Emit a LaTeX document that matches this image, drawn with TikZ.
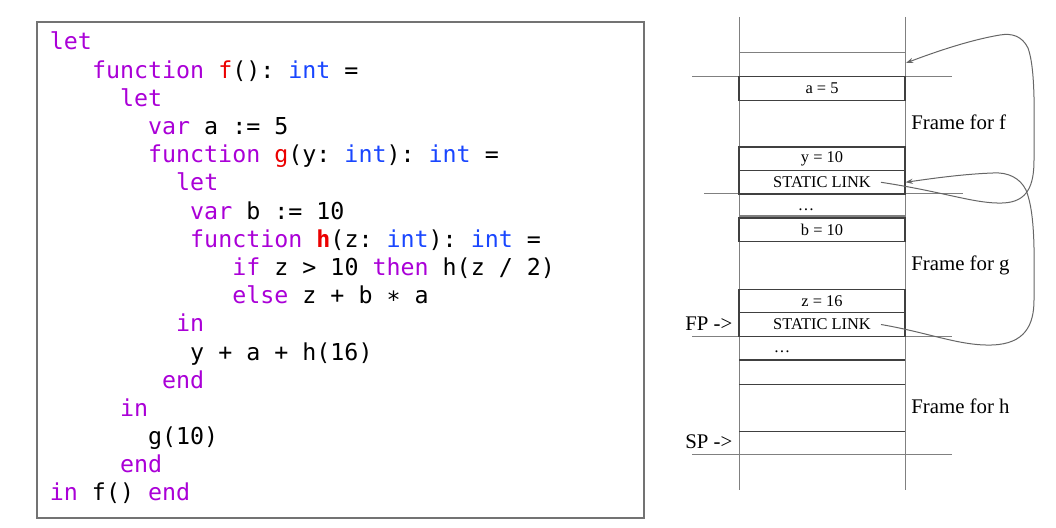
\documentclass[tikz,border=0pt]{standalone}
\usepackage{fontspec}
\setmainfont{Liberation Serif}
\setmonofont{DejaVu Sans Mono}
\usepackage{xcolor}
\usetikzlibrary{calc,arrows.meta}

\definecolor{kwpurple}{RGB}{170,0,215}
\definecolor{typeblue}{RGB}{25,70,255}
\definecolor{fnred}{RGB}{235,0,0}
\newcommand{\kw}[1]{\textcolor{kwpurple}{#1}}
\newcommand{\ty}[1]{\textcolor{typeblue}{#1}}
\newcommand{\fn}[1]{\textcolor{fnred}{#1}}

\begin{document}
\begin{tikzpicture}[x=0.5pt,y=-0.5pt,
  code/.style={anchor=base west,inner sep=0,font=\ttfamily\fontsize{11.65}{14}\selectfont},
  cell/.style={draw=black!75,line width=0.6pt,minimum width=83pt,minimum height=11.75pt,inner sep=0,font=\fontsize{8.2}{9}\selectfont},
  celltext/.style={anchor=base,inner sep=0,font=\fontsize{8.2}{9}\selectfont},
  framelab/.style={anchor=base west,inner sep=0,font=\fontsize{10.4}{12}\selectfont},
  rung/.style={draw=black!75,line width=0.6pt},
  edge/.style={draw=black!50,line width=0.5pt},
  link/.style={draw=black!60,line width=0.5pt,-{Stealth[length=3.6pt,width=2.6pt]}}]
\useasboundingbox (0,0) rectangle (1056,528);

% source program
\draw [black!55,line width=0.75pt] (37,22) rectangle (644,518);
\node [code] (l1)  at (49.5,50)    {\kw{let}};
\node [code] (l2)  at (91.6,78.2)  {\kw{function} \fn{f}(): \ty{int} =};
\node [code] (l3)  at (119.7,106.4) {\kw{let}};
\node [code] (l4)  at (147.7,134.6) {\kw{var} a := 5};
\node [code] (l5)  at (147.7,162.8) {\kw{function} \fn{g}(y: \ty{int}): \ty{int} =};
\node [code] (l6)  at (175.8,191)   {\kw{let}};
\node [code] (l7)  at (189.8,219.1) {\kw{var} b := 10};
\node [code] (l8)  at (189.8,247.3) {\kw{function} \fn{\textbf{h}}(z: \ty{int}): \ty{int} =};
\node [code] (l9)  at (231.9,275.5) {\kw{if} z > 10 \kw{then} h(z / 2)};
\node [code] (l10) at (231.9,303.7) {\kw{else} z + b ∗ a};
\node [code] (l11) at (175.8,331.9) {\kw{in}};
\node [code] (l12) at (189.8,360.1) {y + a + h(16)};
\node [code] (l13) at (161.7,388.3) {\kw{end}};
\node [code] (l14) at (119.7,416.5) {\kw{in}};
\node [code] (l15) at (147.7,444.7) {g(10)};
\node [code] (l16) at (119.7,472.9) {\kw{end}};
\node [code] (l17) at (49.5,501)    {\kw{in} f() \kw{end}};

% stack
\draw [edge] (739,17) -- (739,490);
\draw [edge] (905,17) -- (905,490);
\draw [edge] (739,52.7) -- (905,52.7);
\draw [edge] (692,76.7) -- (952,76.7);
\draw [edge] (704,194) -- (963,194);
\draw [edge] (692,336.7) -- (952,336.7);
\draw [edge] (692,455) -- (952,455);
\draw [edge,line width=0.8pt] (739,216) -- (905,216);
\foreach \y in {360,384.3,431.7}
  \draw [rung] (739,\y) -- (905,\y);

\node [cell] (a5)  at (822,88.5)  {a = 5};
\node [cell] (y10) at (822,158.8) {y = 10};
\node [cell] (slg) at (822,182.3) {STATIC LINK};
\node [cell] (b10) at (822,229.8) {b = 10};
\node [cell] (z16) at (822,301)   {z = 16};
\node [cell] (slh) at (822,324.5) {STATIC LINK};
\node [celltext] (dg) at (806,211) {\dots};
\node [celltext] (dh) at (782,353) {\dots};

\node [framelab] (ff) at (911,129.5) {Frame for f};
\node [framelab] (fg) at (911,271)   {Frame for g};
\node [framelab] (fh) at (911,413.5) {Frame for h};
\node [framelab] (fp) at (685,330.5) {FP ->};
\node [framelab] (sp) at (685,448.5) {SP ->};

\coordinate (ftop) at (906,63);
\draw [link] ($(slg.center)+(59,0)$) .. controls (945,192) and (975,204) .. (1003,203)
  .. controls (1028,202) and (1034,185) .. (1034,160)
  .. controls (1034,120) and (1036,70) .. (1028,48)
  .. controls (1022,36) and (1012,33) .. (1000,35)
  .. controls (970,40) and (935,52) .. (ftop);
\draw [link] ($(slh.center)+(59,0)$) .. controls (930,333) and (960,346) .. (992,345)
  .. controls (1025,344) and (1034,325) .. (1034,300)
  .. controls (1034,260) and (1036,215) .. (1026,190)
  .. controls (1020,178) and (1008,172) .. (993,173)
  .. controls (965,174) and (935,178) .. (slg.east);
\end{tikzpicture}
\end{document}
